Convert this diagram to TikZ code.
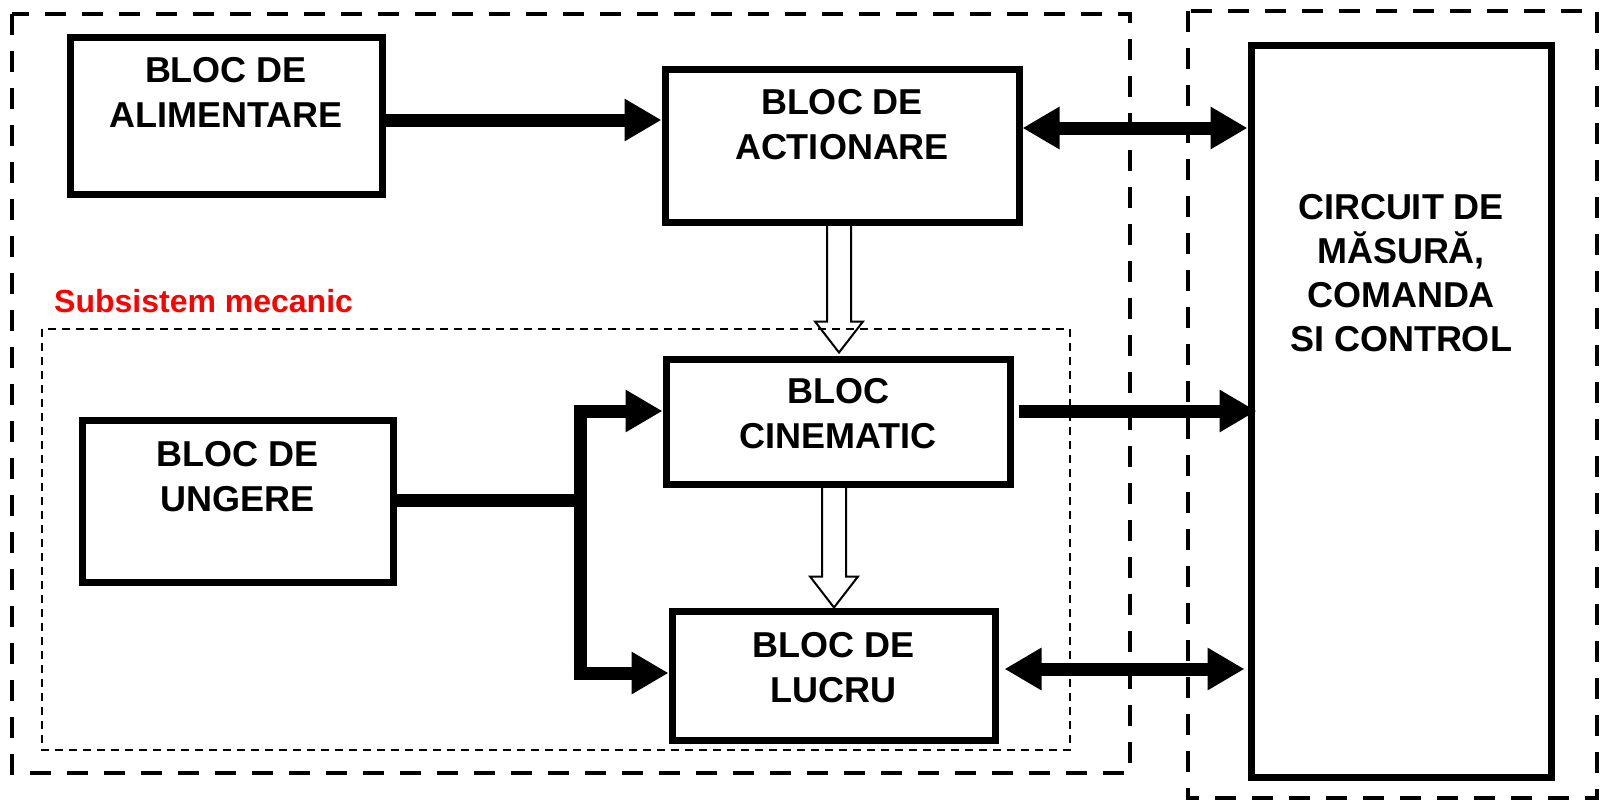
\documentclass[tikz,border=0pt]{standalone}
\usepackage{fontspec}
\setmainfont{Liberation Sans}
\usetikzlibrary{arrows.meta,calc}
\tikzset{
  blk/.style={draw, line width=7pt, rectangle, inner sep=0pt},
  txt/.style={font=\fontsize{36}{45}\selectfont\bfseries, align=center, anchor=north, inner sep=0pt},
  arr/.style={line width=13pt, -{Triangle[length=37pt,width=40pt]}},
  darr/.style={line width=13pt, {Triangle[length=37pt,width=40pt]}-{Triangle[length=37pt,width=40pt]}},
  hollow/.style={draw, line width=2pt, line join=miter},
  bigdash/.style={line width=4pt, dash pattern=on 21pt off 16pt},
  smalldash/.style={line width=1.5pt, dash pattern=on 8pt off 6pt},
  lbl/.style={font=\fontsize{32}{38}\selectfont\bfseries, text=red, anchor=base west, inner sep=0pt}
}
\newcommand\hollowarr[2]{\draw[hollow] let \p1=(#1), \p2=(#2) in
  (\x1-12pt,\y1) -- (\x1-12pt,\y2+31pt) -- (\x1-24pt,\y2+31pt) -- (\x1,\y2)
  -- (\x1+24pt,\y2+31pt) -- (\x1+12pt,\y2+31pt) -- (\x1+12pt,\y1);}
\begin{document}
\begin{tikzpicture}[x=1pt,y=-1pt]
\useasboundingbox (0,0) rectangle (1600,801);
% frames
\draw[bigdash] (12,14) rectangle (1130,773);
\draw[bigdash] (1188,11) rectangle (1597,798);
\draw[smalldash] (42,329) rectangle (1070,750);
\node[lbl] (lab) at (54,312) {Subsistem mecanic};
% blocks
\node[blk, minimum width=312pt, minimum height=157pt] (alim) at (226,116) {};
\node[blk, minimum width=354pt, minimum height=153pt] (act) at (842,145.5) {};
\node[blk, minimum width=344pt, minimum height=125pt] (cin) at (838,421.5) {};
\node[blk, minimum width=323pt, minimum height=129pt] (lucru) at (833.5,675.5) {};
\node[blk, minimum width=311pt, minimum height=162pt] (ung) at (237.5,501) {};
\node[blk, minimum width=300pt, minimum height=732pt] (circ) at (1401,411) {};
% texts
\node[txt] (alimT) at (226,57) {BLOC DE\\ALIMENTARE};
\node[txt] (actT) at (842,89) {BLOC DE\\ACTIONARE};
\node[txt] (cinT) at (838,378) {BLOC\\CINEMATIC};
\node[txt] (lucruT) at (833.5,632) {BLOC DE\\LUCRU};
\node[txt] (ungT) at (237.5,441) {BLOC DE\\UNGERE};
\node[txt, font=\fontsize{36}{44}\selectfont\bfseries] (circT) at (1401,194) {CIRCUIT DE\\MĂSURĂ,\\COMANDA\\SI CONTROL};
% helper coordinates
\coordinate (r1) at (0,120);
\coordinate (r2) at (0,128);
\coordinate (r3) at (0,411);
\coordinate (r4) at (0,669);
\coordinate (j0) at (580,500);
\coordinate (j1) at (580,411);
\coordinate (j2) at (580,673);
% connectors
\draw[arr] (alim.east |- r1) -- (act.west |- r1);
\draw[darr] (act.east |- r2) -- (circ.west |- r2);
\draw[arr] ([xshift=5pt]cin.east |- r3) -- ([xshift=9pt]circ.west |- r3);
\draw[darr] ([xshift=6pt]lucru.east |- r4) -- ([xshift=-3pt]circ.west |- r4);
\draw[line width=13pt] (ung.east |- j0) -- (j0);
\draw[line width=13pt] (j1) -- (j2);
\draw[arr] ([xshift=-6.5pt]j1) -- (cin.west |- j1);
\draw[arr] ([xshift=-6.5pt]j2) -- (lucru.west |- j2);
% hollow arrows
\hollowarr{[xshift=-3pt]act.south}{[yshift=3pt]cin.north}
\hollowarr{[xshift=-4pt]cin.south}{lucru.north}
\end{tikzpicture}
\end{document}
